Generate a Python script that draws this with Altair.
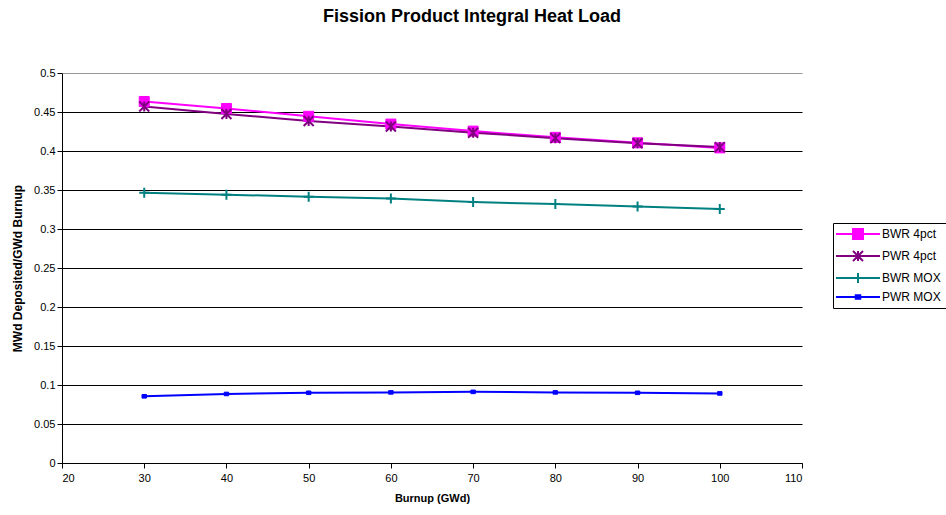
import altair as alt
import pandas as pd

# ---- data ----
burnup = [30, 40, 50, 60, 70, 80, 90, 100]
bwr_4pct = [0.4635, 0.4545, 0.4445, 0.4345, 0.4255, 0.4175, 0.4105, 0.4040]
pwr_4pct = [0.4570, 0.4475, 0.4385, 0.4315, 0.4235, 0.4165, 0.4100, 0.4050]
bwr_mox = [0.3465, 0.3440, 0.3415, 0.3390, 0.3345, 0.3320, 0.3290, 0.3255]
pwr_mox = [0.0855, 0.0885, 0.0900, 0.0905, 0.0912, 0.0905, 0.0900, 0.0892]
series_names = ["BWR 4pct", "PWR 4pct", "BWR MOX", "PWR MOX"]
x_ticks = [20, 30, 40, 50, 60, 70, 80, 90, 100, 110]
y_ticks = [0, 0.05, 0.1, 0.15, 0.2, 0.25, 0.3, 0.35, 0.4, 0.45, 0.5]

# ---- styles ----
colors = ["#FF00FF", "#800080", "#008080", "#0000FF"]
plot_shapes = [
    "M-1,-1H1V1H-1Z",
    "M-1,-1L1,1M-1,1L1,-1M0,-1V1",
    "M0,-1V1M-1,0H1",
    "M-1,-0.8H1V0.8H-1Z",
]
plot_sizes = [100, 100, 100, 20]
plot_sw = [1, 2, 2, 1]
legend_shapes = [
    "M-4.4,0H4.4M-1,-1H1V1H-1Z",
    "M-4.4,0H4.4M-1,-1L1,1M-1,1L1,-1M0,-1V1",
    "M-4.4,0H4.4M0,-1V1",
    "M-4.4,0H4.4M-0.45,-0.35H0.45V0.35H-0.45Z",
]

series_values = [bwr_4pct, pwr_4pct, bwr_mox, pwr_mox]
rows = []
for name, vals in zip(series_names, series_values):
    for b, v in zip(burnup, vals):
        rows.append({"series": name, "burnup": b, "value": v})
df = pd.DataFrame(rows)

FONT = "Liberation Sans"

x_enc = alt.X(
    "burnup:Q",
    scale=alt.Scale(domain=[20, 110], nice=False, zero=False),
    axis=alt.Axis(
        values=x_ticks, tickCount=30, title="Burnup (GWd)", grid=False,
        labelFont=FONT, labelFontSize=11, labelColor="black", labelPadding=4,
        tickColor="black", tickSize=5, domainColor="black",
        titleFont=FONT, titleFontSize=11, titleFontWeight="bold", titleColor="black",
        titleX=370, titleY=35, titleBaseline="middle",
    ),
)
y_enc = alt.Y(
    "value:Q",
    scale=alt.Scale(domain=[0, 0.5], nice=False),
    axis=alt.Axis(
        values=y_ticks, tickCount=30, format="~g", title="MWd Deposited/GWd Burnup",
        grid=True, labelOverlap=False,
        gridColor=alt.ConditionalAxisColor(
            condition={"test": "datum.value >= 0.5", "value": "#999999"}, value="black"
        ),
        gridWidth=1,
        labelFont=FONT, labelFontSize=11, labelColor="black", labelPadding=2,
        tickColor="black", tickSize=5, domainColor="black",
        titleFont=FONT, titleFontSize=12, titleFontWeight="bold", titleColor="black",
        titleX=-45, titleY=195, titleAlign="center", titleBaseline="middle",
    ),
)

base = alt.Chart(df)

leg = alt.Legend(
    title=None, orient="none", legendX=771, legendY=150,
    labelFont=FONT, labelFontSize=12, labelColor="black",
    symbolSize=100, symbolStrokeWidth=2, symbolOffset=14, labelOffset=18,
    rowPadding=4, padding=5, strokeColor="black", fillColor="white",
)
# legend-carrying layer: zero-size marks, so only the legend shows
legend_layer = base.mark_point(filled=True, size=0, strokeWidth=2, opacity=1).encode(
    x=x_enc, y=y_enc,
    fill=alt.Fill("series:N", scale=alt.Scale(domain=series_names, range=colors), legend=leg),
    stroke=alt.Stroke("series:N", scale=alt.Scale(domain=series_names, range=colors), legend=leg),
    shape=alt.Shape("series:N", scale=alt.Scale(domain=series_names, range=legend_shapes), legend=leg),
)

lines = base.mark_line(strokeWidth=2).encode(
    x="burnup:Q", y="value:Q",
    color=alt.Color("series:N", scale=alt.Scale(domain=series_names, range=colors), legend=None),
)

layers = [legend_layer, lines]
for name, c, shp, sz, sw in zip(series_names, colors, plot_shapes, plot_sizes, plot_sw):
    layers.append(
        base.transform_filter(alt.datum.series == name)
        .mark_point(shape=shp, size=sz, filled=True, fill=c, stroke=c, strokeWidth=sw, opacity=1)
        .encode(x="burnup:Q", y="value:Q")
    )

chart = (
    alt.layer(*layers)
    .properties(
        width=740, height=390,
        autosize=alt.AutoSizeParams(type="none"),
        padding={"left": 62, "top": 73, "right": 144, "bottom": 52},
        background="white",
        title=alt.TitleParams(
            "Fission Product Integral Heat Load",
            font=FONT, fontSize=18, fontWeight="bold", color="black",
            anchor="middle", dx=40, offset=41,
        ),
    )
    .configure_view(stroke=None)
)

chart.save("out.html", embed_options={"renderer": "svg", "actions": False})
